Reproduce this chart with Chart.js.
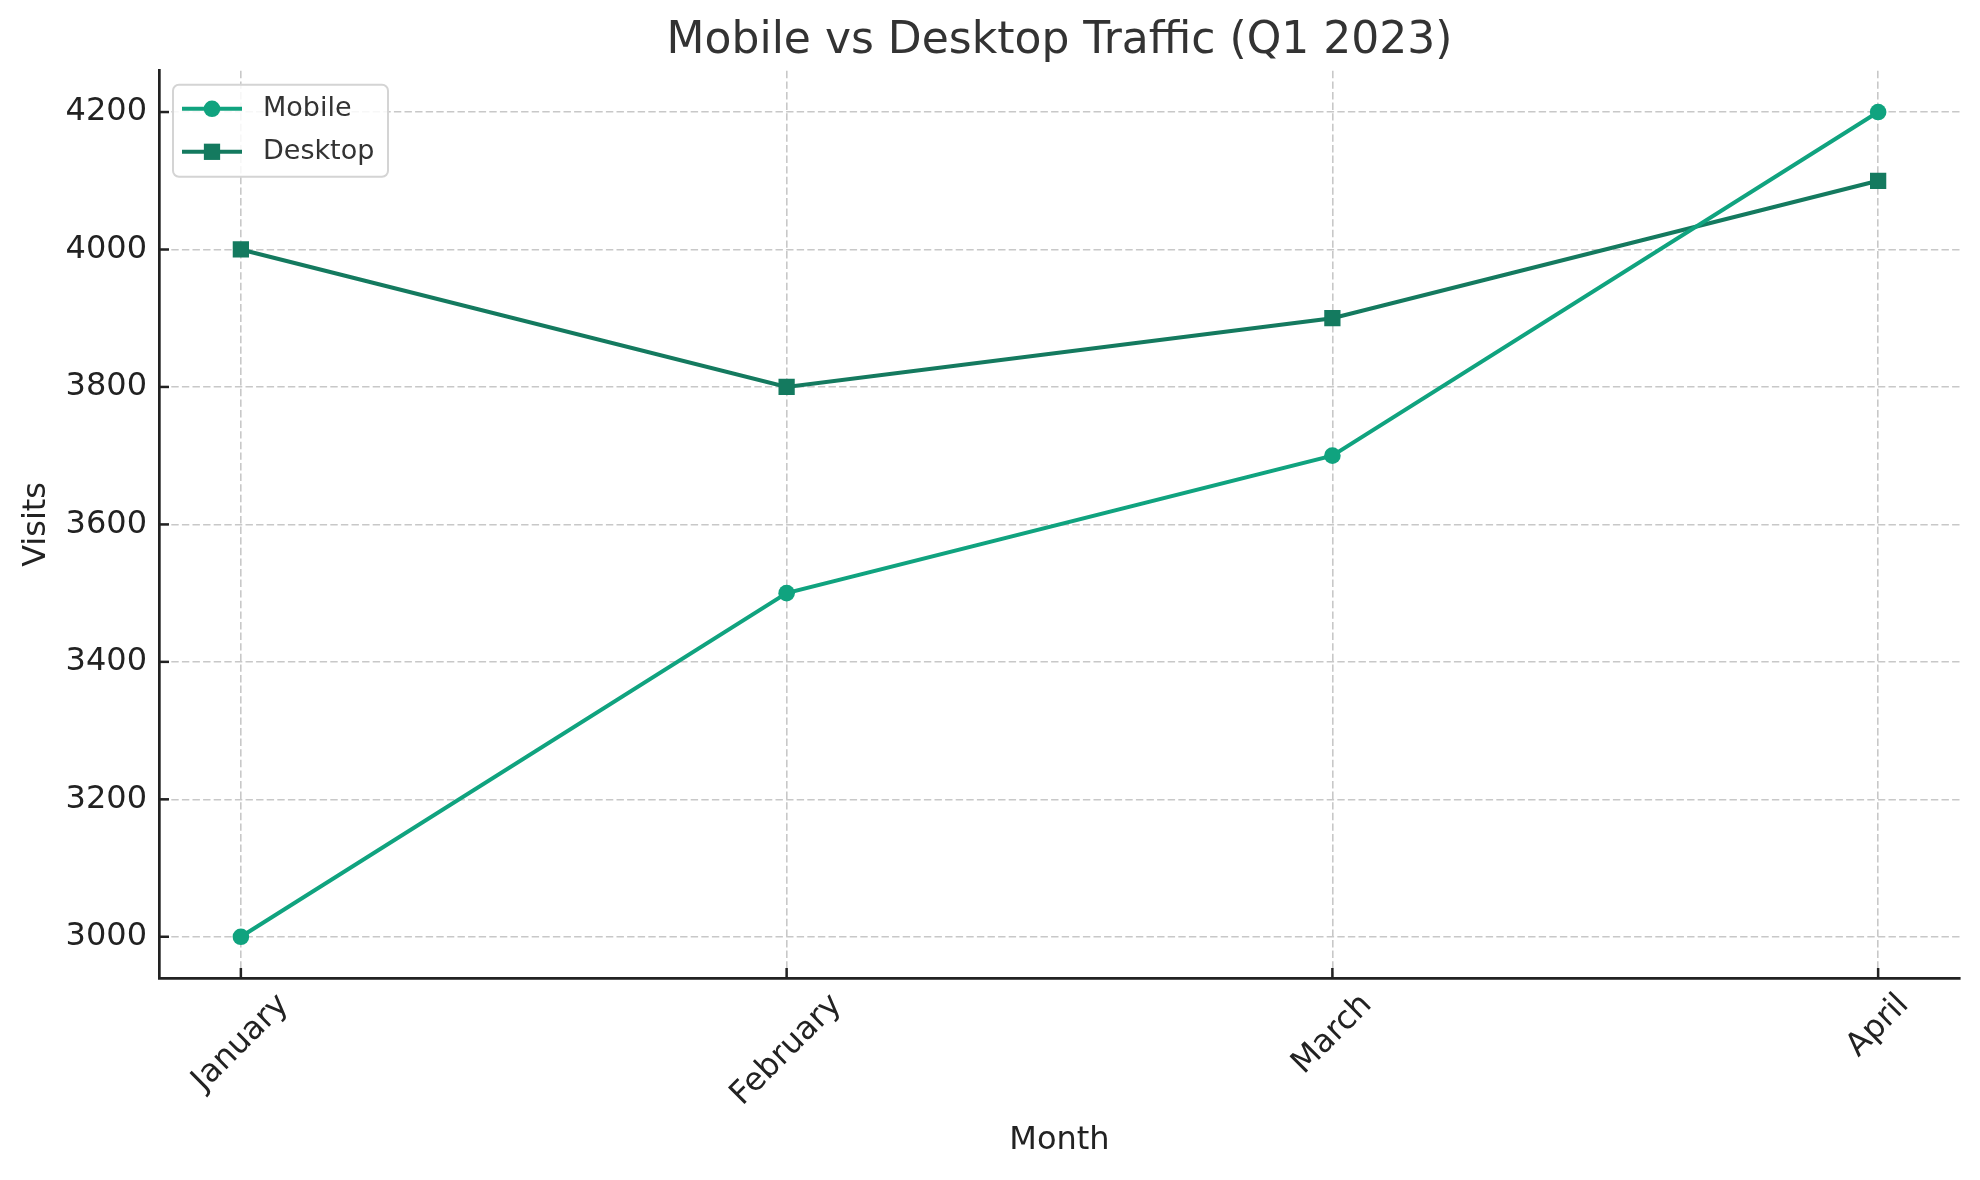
<!DOCTYPE html>
<html>
<head>
<meta charset="utf-8">
<script src="https://cdn.jsdelivr.net/npm/chart.js@4.4.1/dist/chart.umd.min.js"></script>
<style>
  html, body { margin: 0; padding: 0; background: #fff; }
  #wrap { width: 1980px; height: 1180px; }
</style>
</head>
<body>
<div id="wrap"><canvas id="trafficChart" width="1980" height="1180"></canvas></div>
<script>
// Chart data
const months = ['January', 'February', 'March', 'April'];
const mobileVisits = [3000, 3500, 3700, 4200];
const desktopVisits = [4000, 3800, 3900, 4100];
const visitTicks = [3000, 3200, 3400, 3600, 3800, 4000, 4200];

const mobileColor = '#10a37f';
const desktopColor = '#147a5f';
const fontFamily = '"DejaVu Sans", sans-serif';

// Inward tick marks on left/bottom axes (matplotlib style)
const innerTicks = {
  id: 'innerTicks',
  afterDatasetsDraw(chart) {
    const ctx = chart.ctx;
    const area = chart.chartArea;
    ctx.save();
    ctx.strokeStyle = '#222';
    ctx.lineWidth = 2.5;
    chart.scales.x.ticks.forEach((t, i) => {
      const px = chart.scales.x.getPixelForTick(i);
      ctx.beginPath();
      ctx.moveTo(px, area.bottom);
      ctx.lineTo(px, area.bottom - 10);
      ctx.stroke();
    });
    chart.scales.y.ticks.forEach((t, i) => {
      const py = chart.scales.y.getPixelForTick(i);
      ctx.beginPath();
      ctx.moveTo(area.left, py);
      ctx.lineTo(area.left + 10, py);
      ctx.stroke();
    });
    ctx.restore();
  }
};

// Month labels rotated 45deg, centred under each tick like matplotlib
const monthLabels = {
  id: 'monthLabels',
  afterDraw(chart) {
    const xs = chart.scales.x;
    const ctx = chart.ctx;
    ctx.save();
    ctx.font = '32px ' + fontFamily;
    ctx.fillStyle = '#222';
    ctx.textAlign = 'center';
    ctx.textBaseline = 'middle';
    xs.ticks.forEach((t, i) => {
      const label = months[t.value];
      const w = ctx.measureText(label).width;
      const half = (w + 37) * Math.SQRT1_2 / 2;
      ctx.save();
      ctx.translate(xs.getPixelForTick(i), chart.chartArea.bottom + 9 + half);
      ctx.rotate(-Math.PI / 4);
      ctx.fillText(label, 0, 0);
      ctx.restore();
    });
    ctx.restore();
  }
};

// Boxed legend in upper left, line + marker samples
const boxLegend = {
  id: 'boxLegend',
  afterDatasetsDraw(chart) {
    const ctx = chart.ctx;
    const area = chart.chartArea;
    const x0 = area.left + 14;
    const y0 = area.top + 14;
    const w = 215;
    const h = 92;
    ctx.save();
    ctx.beginPath();
    ctx.roundRect(x0, y0, w, h, 6);
    ctx.fillStyle = 'rgba(255,255,255,0.85)';
    ctx.fill();
    ctx.strokeStyle = '#d4d4d4';
    ctx.lineWidth = 2;
    ctx.stroke();

    chart.data.datasets.forEach((ds, i) => {
      const cy = y0 + 24 + i * 43;
      ctx.strokeStyle = ds.borderColor;
      ctx.lineWidth = ds.borderWidth;
      ctx.beginPath();
      ctx.moveTo(x0 + 9, cy);
      ctx.lineTo(x0 + 69, cy);
      ctx.stroke();
      ctx.fillStyle = ds.borderColor;
      Chart.helpers.drawPoint(ctx, {
        pointStyle: ds.pointStyle,
        radius: ds.pointRadius,
        borderWidth: 0
      }, x0 + 39, cy);
      ctx.fillStyle = '#333';
      ctx.font = '27px ' + fontFamily;
      ctx.textAlign = 'left';
      ctx.textBaseline = 'middle';
      ctx.fillText(ds.label, x0 + 90, cy);
    });
    ctx.restore();
  }
};

function toPoints(values) {
  return values.map((v, i) => ({ x: i, y: v }));
}

const ctx = document.getElementById('trafficChart').getContext('2d');

new Chart(ctx, {
  type: 'line',
  data: {
    datasets: [
      {
        label: 'Mobile',
        data: toPoints(mobileVisits),
        borderColor: mobileColor,
        backgroundColor: mobileColor,
        borderWidth: 4,
        pointStyle: 'circle',
        pointRadius: 8.3,
        pointBorderWidth: 0,
        pointHoverRadius: 8.3,
        tension: 0
      },
      {
        label: 'Desktop',
        data: toPoints(desktopVisits),
        borderColor: desktopColor,
        backgroundColor: desktopColor,
        borderWidth: 4,
        pointStyle: 'rect',
        pointRadius: 11.5,
        pointBorderWidth: 0,
        pointHoverRadius: 11.5,
        tension: 0
      }
    ]
  },
  options: {
    responsive: false,
    animation: false,
    devicePixelRatio: 1,
    layout: {
      padding: { left: 0, right: 20, top: 0, bottom: 0 }
    },
    plugins: {
      legend: { display: false },
      tooltip: { enabled: false },
      title: {
        display: true,
        fullSize: false,
        text: 'Mobile vs Desktop Traffic (Q1 2023)',
        color: '#333',
        font: { family: fontFamily, size: 44, weight: 'normal' },
        padding: { top: 15, bottom: 3 }
      }
    },
    scales: {
      x: {
        type: 'linear',
        min: -0.15,
        max: 3.15,
        afterBuildTicks: (scale) => {
          scale.ticks = months.map((m, i) => ({ value: i }));
        },
        afterFit: (scale) => { scale.height = 202; },
        ticks: {
          display: false,
          callback: (value) => months[value]
        },
        grid: {
          color: '#c8c8c8',
          lineWidth: 1.6,
          drawTicks: false
        },
        border: { display: true, color: '#222', width: 2.7, dash: [7.4, 3.2] },
        title: {
          display: true,
          text: 'Month',
          color: '#222',
          font: { family: fontFamily, size: 32 },
          padding: { top: 0, bottom: 20 }
        }
      },
      y: {
        min: 2940,
        max: 4260,
        afterBuildTicks: (scale) => {
          scale.ticks = visitTicks.map(v => ({ value: v }));
        },
        afterFit: (scale) => { scale.width = 159; },
        ticks: {
          callback: (value) => String(value),
          color: '#222',
          font: { family: fontFamily, size: 32 },
          padding: 12
        },
        grid: {
          color: '#c8c8c8',
          lineWidth: 1.6,
          drawTicks: false
        },
        border: { display: true, color: '#222', width: 2.7, dash: [7.4, 3.2] },
        title: {
          display: true,
          text: 'Visits',
          color: '#222',
          font: { family: fontFamily, size: 32 },
          padding: { top: 17, bottom: 0 }
        }
      }
    }
  },
  plugins: [innerTicks, monthLabels, boxLegend]
});
</script>
</body>
</html>
